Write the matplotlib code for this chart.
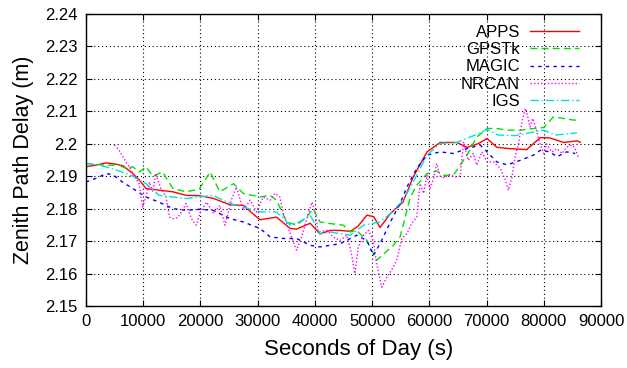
import numpy as np
import matplotlib
matplotlib.use("Agg")
import matplotlib.pyplot as plt

plt.rcParams['font.family'] = ['Liberation Sans', 'DejaVu Sans']

# values (seconds of day, metres)
apps_t = [0, 2000, 3500, 5000, 6500, 8200, 9500, 10500, 12800, 15200, 17500, 19800,
          22200, 25200, 27500, 30400, 32000, 33300, 35700, 36800, 39200, 40900, 42700,
          44400, 46200, 47500, 49100, 50300, 51400, 53200, 55400, 57200, 59600, 61900,
          64800, 66600, 68500, 70100, 71800, 74000, 77000, 79400, 81100, 83500, 85800, 86400]
apps_v = [2.1929, 2.1935, 2.1941, 2.1938, 2.1932, 2.1908, 2.1885, 2.1862, 2.1857, 2.1852,
          2.1841, 2.1840, 2.1832, 2.1812, 2.1810, 2.1766, 2.1770, 2.1774, 2.1739, 2.1737,
          2.1755, 2.1722, 2.1733, 2.1733, 2.1730, 2.1745, 2.1780, 2.1775, 2.1742, 2.1785,
          2.1820, 2.1898, 2.1975, 2.2004, 2.2004, 2.1989, 2.2000, 2.2016, 2.1989, 2.1985,
          2.1982, 2.2019, 2.2018, 2.2004, 2.2009, 2.2005]

gpstk_t = [0, 3500, 5800, 7000, 8200, 9300, 10500, 11700, 13400, 15200, 17500, 19800,
           21700, 23400, 25800, 27500, 30400, 32200, 33300, 35100, 36800, 38600, 39700,
           40900, 42700, 45000, 46200, 47300, 49100, 50800, 52000, 53700, 54900, 56700,
           57800, 59600, 61300, 62500, 64200, 66600, 68300, 70100, 71800, 73600, 75900,
           78200, 80000, 81700, 83500, 85200, 86400]
gpstk_v = [2.1939, 2.1934, 2.1934, 2.1924, 2.1929, 2.1913, 2.1929, 2.1900, 2.1913, 2.1862,
           2.1852, 2.1860, 2.1913, 2.1852, 2.1877, 2.1847, 2.1836, 2.1841, 2.1826, 2.1759,
           2.1749, 2.1774, 2.1800, 2.1759, 2.1754, 2.1749, 2.1728, 2.1733, 2.1702, 2.1641,
           2.1660, 2.1687, 2.1713, 2.1836, 2.1872, 2.1908, 2.1916, 2.1903, 2.1903, 2.1965,
           2.2021, 2.2047, 2.2047, 2.2042, 2.2042, 2.2047, 2.2050, 2.2083, 2.2078, 2.2073,
           2.2073]

magic_t = [0, 2000, 3500, 4700, 6400, 8200, 10500, 12800, 15200, 17500, 19800, 22200,
           25200, 27500, 30400, 32200, 34500, 36800, 39200, 40900, 42700, 44400, 46200,
           47300, 49100, 50200, 51400, 53200, 54900, 56100, 57800, 59600, 61900, 64200,
           66600, 68900, 70100, 71800, 73600, 75900, 78200, 79400, 81100, 82300, 84000, 85500]
magic_v = [2.1882, 2.1895, 2.1908, 2.1905, 2.1882, 2.1862, 2.1836, 2.1820, 2.1800, 2.1795,
           2.1798, 2.1795, 2.1769, 2.1759, 2.1739, 2.1713, 2.1708, 2.1708, 2.1687, 2.1682,
           2.1687, 2.1692, 2.1708, 2.1718, 2.1702, 2.1656, 2.1692, 2.1759, 2.1816, 2.1867,
           2.1924, 2.1965, 2.1975, 2.1970, 2.1985, 2.1996, 2.1975, 2.1944, 2.1935, 2.1949,
           2.1965, 2.1980, 2.1975, 2.1960, 2.1975, 2.1970]

nrcan_t = [5000, 5800, 7000, 7600, 8200, 8700, 9300, 9900, 10500, 11100,
           11700, 12200, 13100, 14000, 14600, 15200, 16000, 16900, 17500, 18100,
           18600, 19300, 20000, 21100, 22300, 23400, 24300, 25500, 26300, 27500,
           28700, 29800, 31000, 32200, 33000, 33900, 34500, 35700, 36800, 37700,
           38600, 39500, 40000, 40600, 42100, 43200, 44400, 45600, 46400, 47000,
           47600, 48500, 49400, 50200, 50800, 51700, 52600, 53400, 54300, 55200,
           56100, 56900, 57800, 58400, 59000, 59600, 60100, 60700, 61300, 61900,
           62600, 63500, 64500, 65400, 66000, 66800, 67700, 68300, 69200, 70100,
           71200, 72400, 73300, 73800, 74400, 75000, 75600, 76200, 76800, 77200,
           77600, 78100, 78800, 79400, 80000, 80500, 81400, 82300, 83200, 84000,
           84900, 85500, 86100]
nrcan_v = [2.1996, 2.1980, 2.1944, 2.1929, 2.1908, 2.1893, 2.1877, 2.1805, 2.1836, 2.1882,
           2.1852, 2.1908, 2.1862, 2.1836, 2.1774, 2.1769, 2.1772, 2.1795, 2.1816, 2.1785,
           2.1764, 2.1749, 2.1790, 2.1820, 2.1785, 2.1810, 2.1749, 2.1831, 2.1867, 2.1795,
           2.1826, 2.1790, 2.1836, 2.1826, 2.1847, 2.1836, 2.1785, 2.1723, 2.1672, 2.1713,
           2.1769, 2.1820, 2.1795, 2.1728, 2.1733, 2.1713, 2.1702, 2.1718, 2.1661, 2.1600,
           2.1682, 2.1718, 2.1733, 2.1702, 2.1631, 2.1558, 2.1589, 2.1610, 2.1641, 2.1708,
           2.1723, 2.1754, 2.1774, 2.1877, 2.1847, 2.1903, 2.1862, 2.1888, 2.1939, 2.1900,
           2.1895, 2.1905, 2.1898, 2.1900, 2.2006, 2.1949, 2.1970, 2.1934, 2.1975, 2.1944,
           2.1944, 2.1924, 2.1888, 2.1857, 2.1893, 2.1960, 2.2001, 2.2068, 2.2109, 2.2083,
           2.2052, 2.2078, 2.2037, 2.1996, 2.1970, 2.2000, 2.1975, 2.1985, 2.1970, 2.1990,
           2.1996, 2.1985, 2.1955]

igs_t = [0, 2000, 3500, 5800, 8200, 10500, 12800, 15200, 17500, 19800, 22200, 25200,
         27500, 30400, 33300, 35700, 37400, 39200, 40900, 42700, 44400, 46200, 48500,
         51400, 53200, 55400, 57200, 59600, 61900, 64800, 68000, 70100, 72000, 75000,
         77000, 80000, 82000, 84000, 85800]
igs_v = [2.1939, 2.1935, 2.1929, 2.1916, 2.1900, 2.1877, 2.1841, 2.1836, 2.1831, 2.1836,
         2.1841, 2.1816, 2.1805, 2.1790, 2.1790, 2.1749, 2.1760, 2.1780, 2.1723, 2.1728,
         2.1723, 2.1718, 2.1749, 2.1759, 2.1785, 2.1826, 2.1882, 2.1965, 2.2001, 2.2004,
         2.2027, 2.2044, 2.2027, 2.2025, 2.2032, 2.2042, 2.2027, 2.2030, 2.2034]

xticks = np.arange(0, 90001, 10000)
yticks = [2.15, 2.16, 2.17, 2.18, 2.19, 2.2, 2.21, 2.22, 2.23, 2.24]
ytick_labels = ['2.15', '2.16', '2.17', '2.18', '2.19', '2.2', '2.21', '2.22', '2.23', '2.24']

fig = plt.figure(figsize=(6.27, 3.68), dpi=100)
ax = fig.add_axes([0.137, 0.1685, 0.8215, 0.7935])

ax.plot(apps_t, apps_v, color='#ff0000', lw=1.0, label='APPS')
ax.plot(gpstk_t, gpstk_v, color='#00e000', lw=1.0, dashes=(5, 3), label='GPSTk')
ax.plot(magic_t, magic_v, color='#0000ff', lw=1.0, dashes=(2.5, 3), label='MAGIC')
ax.plot(nrcan_t, nrcan_v, color='#ff00ff', lw=1.0, dashes=(1, 1.5), label='NRCAN')
ax.plot(igs_t, igs_v, color='#00e0e0', lw=1.0, dashes=(6, 2, 1, 2), label='IGS')

ax.set_xlim(0, 90000)
ax.set_ylim(2.15, 2.24)
ax.set_xticks(xticks)
ax.set_xticklabels([str(v) for v in xticks])
ax.set_yticks(yticks)
ax.set_yticklabels(ytick_labels)
ax.tick_params(direction='in', length=4, width=0.8, labelsize=12,
               top=True, right=True, pad=6)
ax.grid(True, color='black', linestyle=(0, (1, 2.5)), linewidth=0.8)
for s in ax.spines.values():
    s.set_linewidth(1.0)

ax.set_xlabel('Seconds of Day (s)', fontsize=16)
ax.xaxis.set_label_coords(0.529, -0.112)
ax.set_ylabel('Zenith Path Delay (m)', fontsize=15.5, labelpad=8)

ax.legend(loc='upper right', bbox_to_anchor=(0.971, 0.986), borderaxespad=0,
          frameon=False, markerfirst=False, fontsize=12,
          handlelength=2.95, handletextpad=0.6, labelspacing=0.14)

fig.savefig('out.png', dpi=100)
plt.close()
